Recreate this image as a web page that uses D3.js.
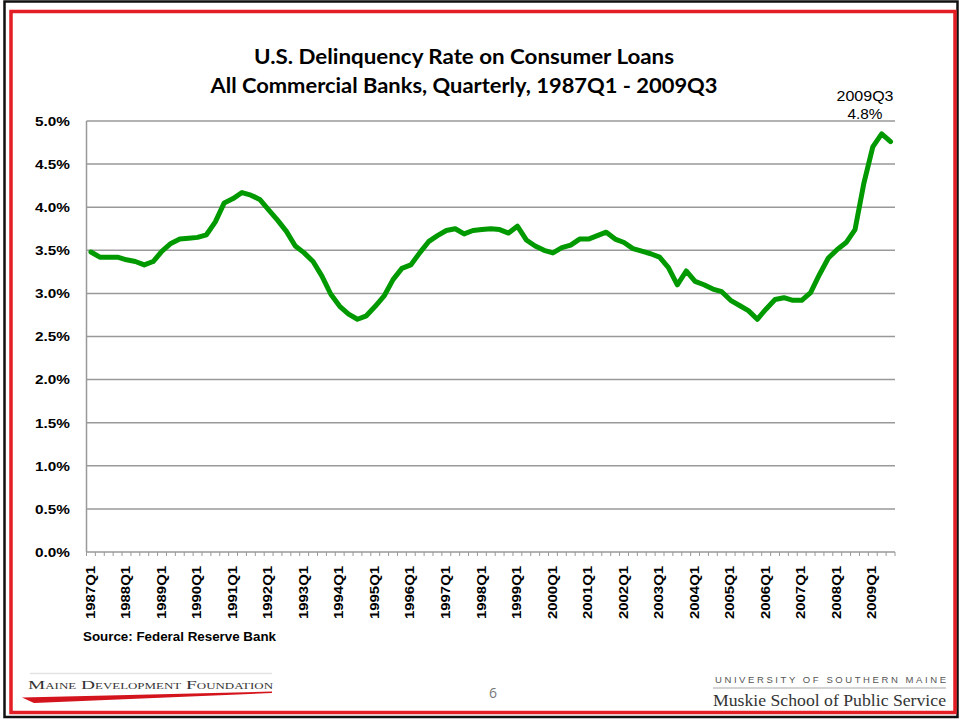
<!DOCTYPE html>
<html>
<head>
<meta charset="utf-8">
<script src="https://cdn.jsdelivr.net/npm/d3@7/dist/d3.min.js"></script>
<style>
  html, body { margin: 0; padding: 0; background: #fff; }
  svg { display: block; }
</style>
</head>
<body>
<div id="chart"></div>
<script>
// quarterly data, 1987Q1 .. 2009Q3
const years = d3.range(1987, 2010);
const quarterNames = ['Q1', 'Q2', 'Q3', 'Q4'];
const quarters = years.flatMap(yr => quarterNames.map(q => yr + q)).slice(0, 91);

const tickLabels = ['1987Q1', '1988Q1', '1989Q1', '1990Q1', '1991Q1', '1992Q1', '1993Q1', '1994Q1',
  '1995Q1', '1996Q1', '1997Q1', '1998Q1', '1999Q1', '2000Q1', '2001Q1', '2002Q1', '2003Q1',
  '2004Q1', '2005Q1', '2006Q1', '2007Q1', '2008Q1', '2009Q1'];

// delinquency rate, percent
const rates = [
  3.48, 3.42, 3.42, 3.42, 3.39, 3.37, 3.33, 3.37, 3.49, 3.58,
  3.63, 3.64, 3.65, 3.68, 3.83, 4.05, 4.10, 4.17, 4.14, 4.09,
  3.97, 3.85, 3.72, 3.55, 3.47, 3.37, 3.20, 2.99, 2.85, 2.76,
  2.70, 2.74, 2.85, 2.97, 3.16, 3.29, 3.33, 3.47, 3.60, 3.67,
  3.73, 3.75, 3.69, 3.73, 3.74, 3.75, 3.74, 3.70, 3.78, 3.62,
  3.55, 3.50, 3.47, 3.53, 3.56, 3.63, 3.63, 3.67, 3.71, 3.63,
  3.59, 3.52, 3.49, 3.46, 3.42, 3.30, 3.10, 3.26, 3.14, 3.10,
  3.05, 3.02, 2.92, 2.86, 2.80, 2.70, 2.82, 2.93, 2.95, 2.92,
  2.92, 3.01, 3.22, 3.41, 3.51, 3.59, 3.74, 4.28, 4.70, 4.85, 4.76
];

const titleLines = ['U.S. Delinquency Rate on Consumer Loans',
  'All Commercial Banks, Quarterly, 1987Q1 - 2009Q3'];
const noteLines = ['2009Q3', '4.8%'];

const W = 960, H = 719;
const plot = { left: 86.5, right: 895, top: 121, bottom: 552 };

const svg = d3.select('#chart')
  .append('svg')
  .attr('width', W)
  .attr('height', H);

svg.append('rect').attr('width', W).attr('height', H).attr('fill', '#fff');

// slide frame
svg.append('rect')
  .attr('x', 4.5).attr('y', 1.5).attr('width', 953).attr('height', 715.5)
  .attr('fill', 'none').attr('stroke', '#111').attr('stroke-width', 2.5);
svg.append('rect')
  .attr('x', 11).attr('y', 11.5).attr('width', 944).attr('height', 701)
  .attr('fill', 'none').attr('stroke', '#e31e24').attr('stroke-width', 3.5);

const x = d3.scaleBand()
  .domain(quarters)
  .range([plot.left, plot.right]);
const cx = d => x(d) + x.bandwidth() / 2;

const y = d3.scaleLinear()
  .domain([0, 5])
  .range([plot.bottom, plot.top]);

const fmt = d3.format('.1%');

// gridlines
svg.append('g')
  .selectAll('line')
  .data(y.ticks(10))
  .enter()
  .append('line')
  .attr('x1', plot.left).attr('x2', plot.right)
  .attr('y1', d => y(d)).attr('y2', d => y(d))
  .attr('stroke', '#999').attr('stroke-width', 1.5);

// y axis line
svg.append('line')
  .attr('x1', plot.left).attr('x2', plot.left)
  .attr('y1', plot.top).attr('y2', plot.bottom)
  .attr('stroke', '#999').attr('stroke-width', 1.5);

svg.append('g')
  .selectAll('text')
  .data(y.ticks(10))
  .enter()
  .append('text')
  .text(d => fmt(d / 100))
  .attr('x', 70)
  .attr('y', d => y(d))
  .attr('dy', '0.36em')
  .attr('text-anchor', 'end')
  .attr('textLength', 35)
  .attr('lengthAdjust', 'spacingAndGlyphs')
  .attr('style', 'font-family: "Liberation Sans", Arial; font-weight: bold; font-size: 13.5px;')
  .attr('fill', '#000');

// x axis: ticks on category boundaries
const bounds = quarters.map(q => x(q)).concat([plot.right]);
svg.append('g')
  .selectAll('line')
  .data(bounds)
  .enter()
  .append('line')
  .attr('x1', d => d).attr('x2', d => d)
  .attr('y1', plot.bottom).attr('y2', plot.bottom + 4)
  .attr('stroke', '#999').attr('stroke-width', 1);

svg.append('g')
  .selectAll('text')
  .data(tickLabels)
  .enter()
  .append('text')
  .text(d => d)
  .attr('transform', d => 'translate(' + (cx(d) - 1) + ',' + 566 + ') rotate(-90)')
  .attr('dy', '0.36em')
  .attr('text-anchor', 'end')
  .attr('textLength', 53)
  .attr('lengthAdjust', 'spacingAndGlyphs')
  .attr('style', 'font-family: "Liberation Sans", Arial; font-weight: bold; font-size: 13px;')
  .attr('fill', '#000');

// the series
const line = d3.line()
  .x((d, i) => cx(quarters[i]))
  .y(d => y(d));

svg.append('path')
  .datum(rates)
  .attr('d', line)
  .attr('fill', 'none')
  .attr('stroke', '#009a00')
  .attr('stroke-width', 5)
  .attr('stroke-linejoin', 'round')
  .attr('stroke-linecap', 'round');

// title
svg.append('g')
  .selectAll('text')
  .data(titleLines)
  .enter()
  .append('text')
  .text(d => d)
  .attr('x', 464)
  .attr('y', (d, i) => 64 + i * 28.5)
  .attr('text-anchor', 'middle')
  .attr('textLength', (d, i) => i === 0 ? 420 : 507)
  .attr('lengthAdjust', 'spacingAndGlyphs')
  .attr('style', 'font-family: Lato, "Open Sans"; font-weight: bold; font-size: 20.5px;')
  .attr('fill', '#000');

// last point note
svg.append('g')
  .selectAll('text')
  .data(noteLines)
  .enter()
  .append('text')
  .text(d => d)
  .attr('x', 865)
  .attr('y', (d, i) => 100.5 + i * 18)
  .attr('text-anchor', 'middle')
  .attr('textLength', (d, i) => i === 0 ? 57 : 35)
  .attr('lengthAdjust', 'spacingAndGlyphs')
  .attr('style', 'font-family: "Liberation Sans", Arial; font-size: 14.5px;')
  .attr('fill', '#000');

svg.append('text')
  .text('Source: Federal Reserve Bank')
  .attr('x', 83)
  .attr('y', 641)
  .attr('textLength', 193)
  .attr('lengthAdjust', 'spacingAndGlyphs')
  .attr('style', 'font-family: "Liberation Sans", Arial; font-weight: bold; font-size: 12px;')
  .attr('fill', '#000');

// footer: left logo
svg.append('line')
  .attr('x1', 30).attr('x2', 272).attr('y1', 673.5).attr('y2', 673.5)
  .attr('stroke', '#e4e4e4').attr('stroke-width', 1.5);
svg.append('text')
  .text('Maine Development Foundation')
  .attr('x', 28)
  .attr('y', 688.5)
  .attr('textLength', 245)
  .attr('lengthAdjust', 'spacingAndGlyphs')
  .attr('style', 'font-family: "Liberation Serif", "DejaVu Serif"; font-size: 13.5px; font-variant: small-caps;')
  .attr('fill', '#333');
svg.append('path')
  .attr('d', 'M22,697.5 L272,691.5 L272,693 L34,703 Z')
  .attr('fill', '#d4141c');

// page number
svg.append('text')
  .text('6')
  .attr('x', 493)
  .attr('y', 698)
  .attr('text-anchor', 'middle')
  .attr('style', 'font-family: "Open Sans", "Liberation Sans"; font-size: 14px;')
  .attr('fill', '#777');

// footer: right logo
svg.append('text')
  .text('UNIVERSITY OF SOUTHERN MAINE')
  .attr('x', 715)
  .attr('y', 683)
  .attr('textLength', 231)
  .attr('lengthAdjust', 'spacing')
  .attr('style', 'font-family: "Liberation Sans", Arial; font-size: 9.5px;')
  .attr('fill', '#555');
svg.append('line')
  .attr('x1', 713).attr('x2', 946).attr('y1', 688).attr('y2', 688)
  .attr('stroke', '#c4c4c4').attr('stroke-width', 1.5);
svg.append('text')
  .text('Muskie School of Public Service')
  .attr('x', 713)
  .attr('y', 705.5)
  .attr('textLength', 233)
  .attr('lengthAdjust', 'spacingAndGlyphs')
  .attr('style', 'font-family: "Liberation Serif", "DejaVu Serif"; font-size: 16.5px;')
  .attr('fill', '#333');
</script>
</body>
</html>
